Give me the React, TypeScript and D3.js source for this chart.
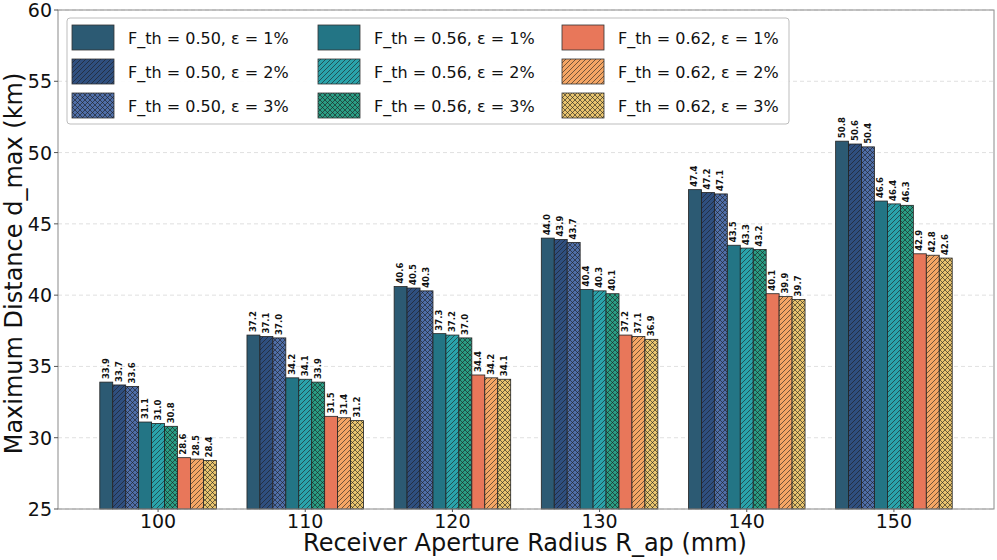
import React from "react";
import * as d3 from "d3";

const categories = ["100", "110", "120", "130", "140", "150"];
const seriesNames = [
  "F_th = 0.50, ε = 1%", "F_th = 0.50, ε = 2%", "F_th = 0.50, ε = 3%",
  "F_th = 0.56, ε = 1%", "F_th = 0.56, ε = 2%", "F_th = 0.56, ε = 3%",
  "F_th = 0.62, ε = 1%", "F_th = 0.62, ε = 2%", "F_th = 0.62, ε = 3%",
];
const values: number[][] = [
  [33.9, 33.7, 33.6, 31.1, 31.0, 30.8, 28.6, 28.5, 28.4],
  [37.2, 37.1, 37.0, 34.2, 34.1, 33.9, 31.5, 31.4, 31.2],
  [40.6, 40.5, 40.3, 37.3, 37.2, 37.0, 34.4, 34.2, 34.1],
  [44.0, 43.9, 43.7, 40.4, 40.3, 40.1, 37.2, 37.1, 36.9],
  [47.4, 47.2, 47.1, 43.5, 43.3, 43.2, 40.1, 39.9, 39.7],
  [50.8, 50.6, 50.4, 46.6, 46.4, 46.3, 42.9, 42.8, 42.6],
];
const colors = ["#2c5a73", "#2f4f7f", "#4f6ea8", "#237585", "#2aa3ab", "#2a9d84", "#e8775a", "#f4a665", "#e8c46e"];
const hatches = ["", "/", "x", "", "/", "x", "", "/", "x"];
const yTicks = [25, 30, 35, 40, 45, 50, 55, 60];

const W = 997, H = 560;
const left = 58, right = 994, top = 10, bottom = 509;
const FONT = "DejaVu Sans, Verdana, sans-serif";

export default function App() {
  const x = d3.scaleLinear().domain([-0.68, 5.68]).range([left, right]);
  const y = d3.scaleLinear().domain([25, 60]).range([bottom, top]);
  const bw = 0.088;
  const n = seriesNames.length;
  const fillFor = (i: number) => (hatches[i] ? `url(#hatch${i})` : colors[i]);

  const legendCols = [72, 318, 562];
  const legendRows = [25, 59, 93];

  return (
    <svg width={W} height={H} style={{ position: "absolute", left: 0, top: 0, background: "#fff" }} fontFamily={FONT}>
      <defs>
        {colors.map((c, i) => (
          <pattern key={i} id={`hatch${i}`} patternUnits="userSpaceOnUse" width={5} height={5}>
            <rect width={5} height={5} fill={c} />
            <path d="M-1,1 l2,-2 M0,5 l5,-5 M4,6 l2,-2" stroke="#1a1a1a" strokeWidth={0.7} opacity={0.85} />
            {hatches[i] === "x" && (
              <path d="M-1,4 l2,2 M0,0 l5,5 M4,-1 l2,2" stroke="#1a1a1a" strokeWidth={0.7} opacity={0.85} />
            )}
          </pattern>
        ))}
      </defs>
      <rect x={0} y={0} width={W} height={H} fill="#fff" />
      {/* grid */}
      {yTicks.map((t) => (
        <line key={t} x1={left} x2={right} y1={y(t)} y2={y(t)} stroke="#d8d8d8" strokeWidth={0.8} strokeDasharray="4,3" />
      ))}
      {/* bars */}
      {values.map((row, g) =>
        row.map((v, i) => {
          const cx = g + (i - (n - 1) / 2) * bw;
          const x0 = x(cx - bw / 2);
          const x1 = x(cx + bw / 2);
          return (
            <g key={`${g}-${i}`}>
              <rect x={x0} y={y(v)} width={x1 - x0} height={y(25) - y(v)} fill={fillFor(i)} stroke="#222" strokeWidth={0.8} />
              <text
                transform={`translate(${x(cx)},${y(v) - 3}) rotate(-90)`}
                fontSize={8.5}
                fontWeight="bold"
                dominantBaseline="middle"
                textAnchor="start"
                fill="#111"
              >
                {v.toFixed(1)}
              </text>
            </g>
          );
        })
      )}
      {/* spines */}
      <rect x={left} y={top} width={right - left} height={bottom - top} fill="none" stroke="#8a8a8a" strokeWidth={1} />
      {/* y ticks */}
      {yTicks.map((t) => (
        <g key={t}>
          <line x1={left - 4} x2={left} y1={y(t)} y2={y(t)} stroke="#555" strokeWidth={1} />
          <text x={left - 6} y={y(t)} fontSize={19} textAnchor="end" dominantBaseline="central" fill="#111">{t}</text>
        </g>
      ))}
      {/* x ticks */}
      {categories.map((c, g) => (
        <g key={c}>
          <line x1={x(g)} x2={x(g)} y1={bottom} y2={bottom + 3} stroke="#555" strokeWidth={1} />
          <text x={x(g)} y={528} fontSize={19} textAnchor="middle" fill="#111">{c}</text>
        </g>
      ))}
      <text x={(left + right) / 2 - 1} y={551} fontSize={24} textAnchor="middle" fill="#111">Receiver Aperture Radius R_ap (mm)</text>
      <text transform={`translate(${22},${(top + bottom) / 2 + 4}) rotate(-90)`} fontSize={24} textAnchor="middle" fill="#111">
        Maximum Distance d_max (km)
      </text>
      {/* legend */}
      <rect x={67} y={18} width={722} height={106} rx={3} fill="#fff" fillOpacity={0.9} stroke="#bdbdbd" strokeWidth={1} />
      {seriesNames.map((s, i) => {
        const col = Math.floor(i / 3);
        const row = i % 3;
        const lx = legendCols[col];
        const ly = legendRows[row];
        return (
          <g key={s}>
            <rect x={lx} y={ly} width={42} height={25} fill={fillFor(i)} stroke="#333" strokeWidth={0.8} />
            <text x={lx + 56} y={ly + 13} fontSize={16} dominantBaseline="central" fill="#111">{s}</text>
          </g>
        );
      })}
    </svg>
  );
}
